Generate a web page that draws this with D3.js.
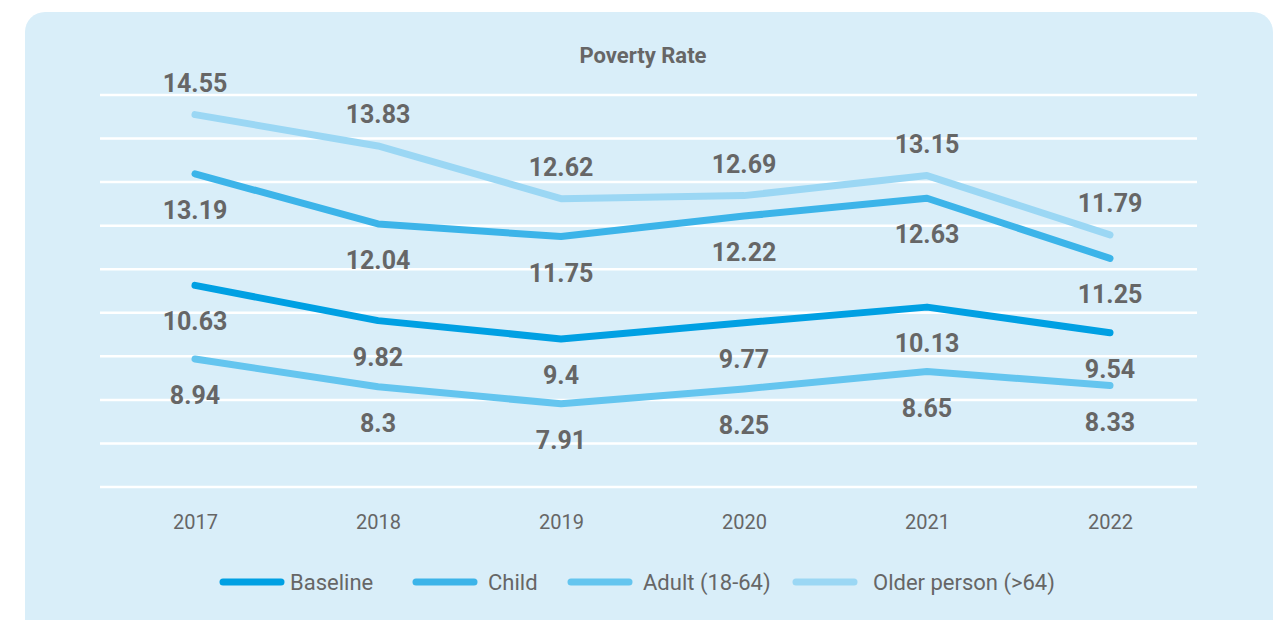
<!DOCTYPE html>
<html>
<head>
<meta charset="utf-8">
<script src="https://cdn.jsdelivr.net/npm/d3@7"></script>
<style>
  html, body { margin: 0; padding: 0; background: #ffffff; }
  svg { display: block; font-family: Roboto, "Liberation Sans", Arial, sans-serif; }
</style>
</head>
<body>
<svg id="chart" width="1281" height="620"></svg>
<script>
// Poverty rate by group, 2017–2022 (%)
const years = ["2017", "2018", "2019", "2020", "2021", "2022"];
const baseline = [10.63, 9.82, 9.4, 9.77, 10.13, 9.54];
const child = [13.19, 12.04, 11.75, 12.22, 12.63, 11.25];
const adult = [8.94, 8.3, 7.91, 8.25, 8.65, 8.33];
const older = [14.55, 13.83, 12.62, 12.69, 13.15, 11.79];
const seriesNames = ["Baseline", "Child", "Adult (18-64)", "Older person (>64)"];
const gridTicks = [6, 7, 8, 9, 10, 11, 12, 13, 14, 15];

const series = [
  { name: seriesNames[0], values: baseline, color: "#00a0e3", labelPos: "below" },
  { name: seriesNames[1], values: child,    color: "#3cb4e9", labelPos: "below" },
  { name: seriesNames[2], values: adult,    color: "#64c5ef", labelPos: "below" },
  { name: seriesNames[3], values: older,    color: "#9bd7f4", labelPos: "above" }
];

const svg = d3.select("#chart");
const textColor = "#666666";

// panel background
svg.append("rect")
  .attr("x", 25).attr("y", 12)
  .attr("width", 1248).attr("height", 628)
  .attr("rx", 20).attr("ry", 20)
  .attr("fill", "#d9eef9");

// title
svg.append("text")
  .attr("x", 643).attr("y", 63)
  .attr("text-anchor", "middle")
  .attr("font-size", 22).attr("font-weight", 700)
  .attr("fill", textColor)
  .text("Poverty Rate");

const x = d3.scalePoint().domain(years).range([195, 1110]);
const y = d3.scaleLinear().domain([6, 15]).range([487, 95]);

// horizontal gridlines
svg.append("g")
  .selectAll("line")
  .data(gridTicks)
  .join("line")
  .attr("x1", 100).attr("x2", 1197)
  .attr("y1", d => y(d)).attr("y2", d => y(d))
  .attr("stroke", "#ffffff").attr("stroke-width", 2.5);

// x axis labels
const xAxis = svg.append("g")
  .attr("transform", "translate(0,510)")
  .call(d3.axisBottom(x).tickSize(0).tickPadding(0));
xAxis.select(".domain").remove();
xAxis.selectAll("text")
  .attr("dy", 0).attr("y", 19)
  .attr("font-size", 20)
  .attr("font-family", "Roboto, sans-serif")
  .attr("fill", textColor);

// series lines
const line = d3.line()
  .x((d, i) => x(years[i]))
  .y(d => y(d))
  .curve(d3.curveLinear);

svg.append("g")
  .selectAll("path")
  .data(series)
  .join("path")
  .attr("d", s => line(s.values))
  .attr("fill", "none")
  .attr("stroke", s => s.color)
  .attr("stroke-width", 7)
  .attr("stroke-linecap", "round")
  .attr("stroke-linejoin", "round");

// value labels
series.forEach(s => {
  svg.append("g")
    .selectAll("text")
    .data(s.values)
    .join("text")
    .attr("x", (d, i) => x(years[i]))
    .attr("y", d => s.labelPos === "above" ? y(d) - 23 : y(d) + 45)
    .attr("text-anchor", "middle")
    .attr("font-size", 25).attr("font-weight", 700)
    .attr("fill", textColor)
    .text(d => d);
});

// legend
const legendItems = [
  { name: seriesNames[0], color: series[0].color, x: 220, gap: 70 },
  { name: seriesNames[1], color: series[1].color, x: 413, gap: 75 },
  { name: seriesNames[2], color: series[2].color, x: 568, gap: 75 },
  { name: seriesNames[3], color: series[3].color, x: 793, gap: 80 }
];
const legend = svg.append("g")
  .selectAll("g")
  .data(legendItems)
  .join("g")
  .attr("transform", d => `translate(${d.x},582)`);
legend.append("line")
  .attr("x1", 3).attr("x2", 61)
  .attr("stroke", d => d.color)
  .attr("stroke-width", 7)
  .attr("stroke-linecap", "round");
legend.append("text")
  .attr("x", d => d.gap)
  .attr("y", 7.5)
  .attr("font-size", 22)
  .attr("fill", textColor)
  .text(d => d.name);
</script>
</body>
</html>
